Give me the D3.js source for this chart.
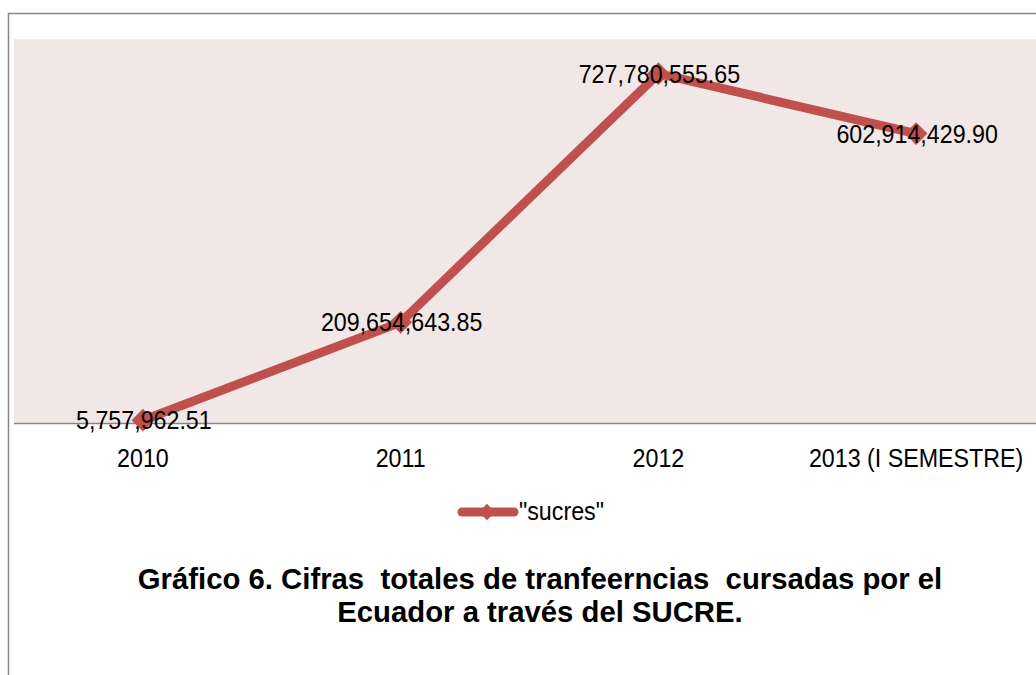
<!DOCTYPE html>
<html>
<head>
<meta charset="utf-8">
<script src="https://cdn.jsdelivr.net/npm/d3@7"></script>
<style>
  body { margin: 0; background: #fff; }
  svg { display: block; }
</style>
</head>
<body>
<div class="chart"></div>
<script>
const categories = ["2010", "2011", "2012", "2013 (I SEMESTRE)"];
const values = [5757962.51, 209654643.85, 727780555.65, 602914429.90];
const labels = ["5,757,962.51", "209,654,643.85", "727,780,555.65", "602,914,429.90"];
const seriesName = "\"sucres\"";
const titleLines = ["Gráfico 6. Cifras  totales de tranfeerncias  cursadas por el",
                    "Ecuador a través del SUCRE."];

const W = 1036, H = 675;
const plot = {left: 14, top: 39, right: 1045, bottom: 423};
const lineColor = "#C0504D";
const labelFont = "'Liberation Sans', Arial, sans-serif";
const labelSize = 25, squeeze = 0.93;

const data = categories.map((c, i) => ({cat: c, value: values[i], label: labels[i]}));

const svg = d3.select('.chart').append('svg')
    .attr("width", W)
    .attr("height", H);

// outer frame
svg.append("rect")
    .attr("x", 8.5).attr("y", 13.5)
    .attr("width", W + 20).attr("height", H + 20)
    .attr("fill", "#fff")
    .attr("stroke", "#888")
    .attr("stroke-width", 1.5);

// plot background
svg.append("rect")
    .attr("x", plot.left).attr("y", plot.top)
    .attr("width", plot.right - plot.left).attr("height", plot.bottom - plot.top)
    .attr("fill", "#F2E7E7");

const xScale = d3.scaleBand()
    .domain(categories)
    .range([plot.left, plot.right]);

const yScale = d3.scaleLinear()
    .domain([0, 800000000])
    .range([plot.bottom, plot.top]);

const xc = d => xScale(d.cat) + xScale.bandwidth() / 2;

// narrow-ish text: scale horizontally around its anchor
function narrowText(sel, x, y) {
    sel.attr("x", 0).attr("y", 0)
        .attr("transform", (d, i) => `translate(${x(d, i)},${y(d, i)}) scale(${squeeze},1)`)
        .attr("font-family", labelFont)
        .attr("font-size", labelSize)
        .attr("fill", "#000");
}

// x axis
const xAxis = d3.axisBottom(xScale).tickSize(0).tickPadding(0);
const gx = svg.append("g")
    .attr("class", "axis x-axis")
    .attr("transform", `translate(0, ${plot.bottom})`)
    .call(xAxis);
gx.select(".domain").remove();
gx.selectAll(".tick text")
    .attr("dy", 0)
    .call(narrowText, () => 0, () => 44);

svg.append("line")
    .attr("x1", plot.left).attr("x2", W)
    .attr("y1", plot.bottom + 0.5).attr("y2", plot.bottom + 0.5)
    .attr("stroke", "#868686")
    .attr("stroke-width", 1.5);

// series line
const line = d3.line()
    .x(xc)
    .y(d => yScale(d.value));

svg.append("path")
    .datum(data)
    .attr("fill", "none")
    .attr("stroke", lineColor)
    .attr("stroke-width", 9)
    .attr("stroke-linejoin", "round")
    .attr("d", line);

const diamond = d3.symbol().type(d3.symbolDiamond2).size(330);

svg.selectAll(".marker")
    .data(data)
    .enter()
    .append("path")
    .attr("class", "marker")
    .attr("d", diamond)
    .attr("transform", d => `translate(${xc(d)},${yScale(d.value)})`)
    .attr("fill", lineColor);

// data labels
svg.selectAll(".dlabel")
    .data(data)
    .enter()
    .append("text")
    .attr("class", "dlabel")
    .attr("text-anchor", "middle")
    .text(d => d.label)
    .call(narrowText, d => xc(d) + 1, d => yScale(d.value) + 9);

// legend
const legY = 512;
svg.append("line")
    .attr("x1", 462).attr("x2", 514)
    .attr("y1", legY).attr("y2", legY)
    .attr("stroke", lineColor)
    .attr("stroke-width", 9)
    .attr("stroke-linecap", "round");
svg.append("path")
    .attr("d", d3.symbol().type(d3.symbolDiamond2).size(170))
    .attr("transform", `translate(487,${legY})`)
    .attr("fill", lineColor);
svg.append("text")
    .datum(seriesName)
    .text(d => d)
    .call(narrowText, () => 519, () => legY + 8);

// title
svg.selectAll(".title")
    .data(titleLines)
    .enter()
    .append("text")
    .attr("class", "title")
    .attr("x", 540)
    .attr("y", (d, i) => 589 + i * 33)
    .attr("text-anchor", "middle")
    .attr("font-family", "'Liberation Sans', Arial, sans-serif")
    .attr("font-weight", "bold")
    .attr("font-size", 29.3)
    .style("white-space", "pre")
    .text(d => d);
</script>
</body>
</html>
